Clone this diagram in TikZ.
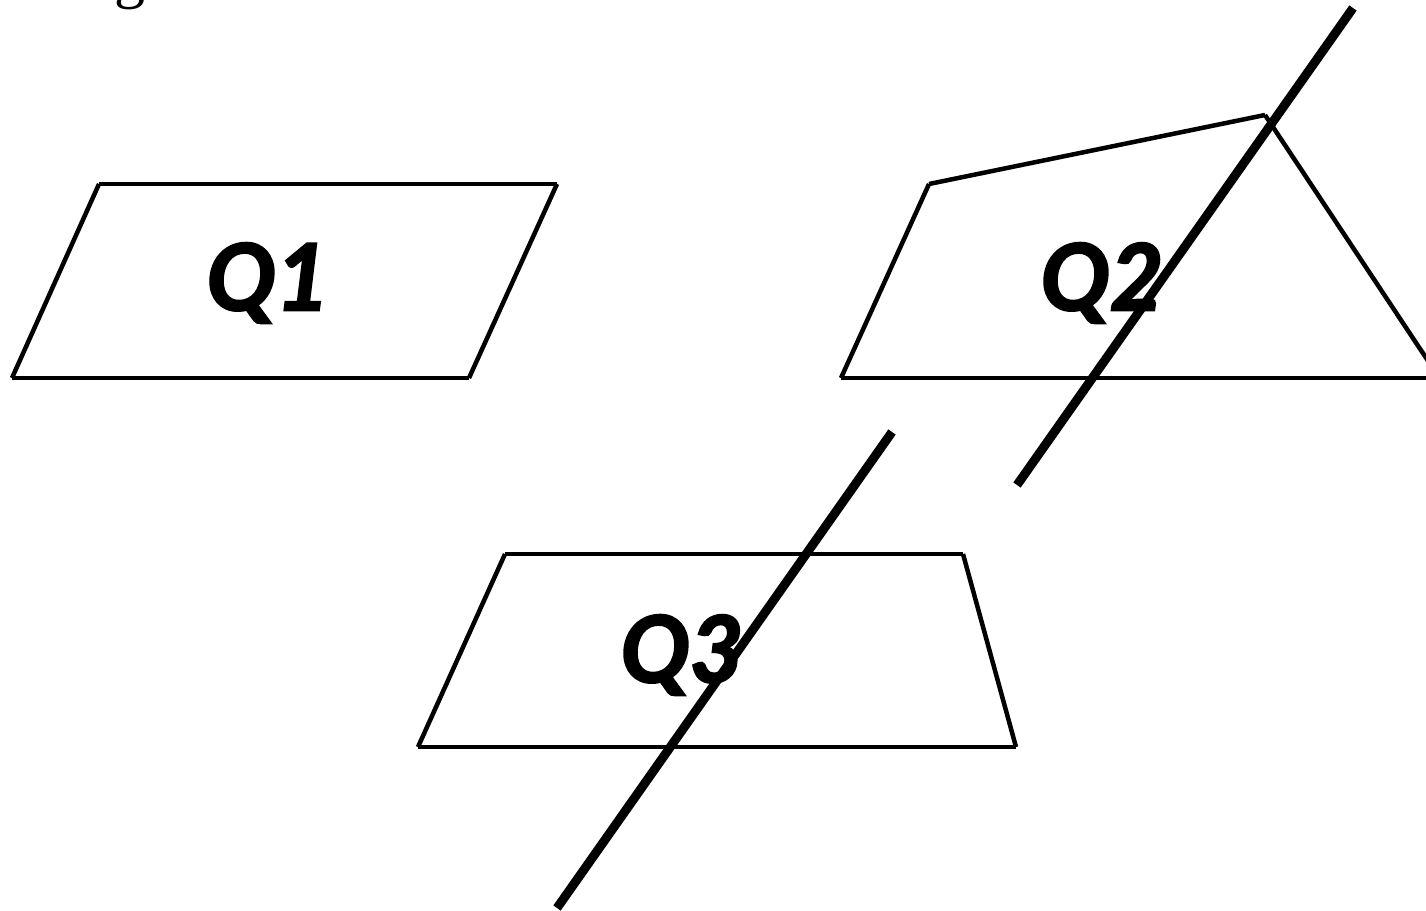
\documentclass[tikz,border=0pt]{standalone}
\usepackage{fontspec}
\newfontfamily\labfont[BoldItalicFeatures={FakeBold=2.5}]{Lato}
\newfontfamily\serfont{Liberation Serif}
\begin{document}
\begin{tikzpicture}[x=1pt,y=-1pt,
  edge/.style={line width=4.5pt,line cap=butt},
  axis/.style={line width=9pt,line cap=butt},
  lab/.style={font=\labfont\bfseries\itshape\fontsize{92}{92}\selectfont,inner sep=0pt}]
\useasboundingbox (0,0) rectangle (1426,910);
\clip (0,0) rectangle (1426,910);
\node[anchor=base west,inner sep=0pt,font=\serfont\fontsize{62}{62}\selectfont] (g) at (114,-4) {g};
% Q1
\coordinate (a1) at (12,378); \coordinate (b1) at (99,184);
\coordinate (c1) at (557,184); \coordinate (d1) at (469,378);
\draw[edge] (a1) -- (b1); \draw[edge] (b1) -- (c1);
\draw[edge] (c1) -- (d1); \draw[edge] (d1) -- (a1);
\node[lab] (q1) at (268,283) {Q1};
% Q2
\coordinate (a2) at (841,378); \coordinate (b2) at (929,184);
\coordinate (c2) at (1265,115); \coordinate (d2) at (1446,388); \coordinate (e2) at (1426,378);
\draw[edge] (a2) -- (b2); \draw[edge] (b2) -- (c2);
\draw[edge] (c2) -- (d2); \draw[edge] (a2) -- (e2);
\node[lab] (q2) at (1102,283) {Q2};
\coordinate (s2) at (1353,8); \coordinate (t2) at (1017,485);
\draw[axis] (s2) -- (t2);
% Q3
\coordinate (a3) at (418,747); \coordinate (b3) at (505,554);
\coordinate (c3) at (963,554); \coordinate (d3) at (1016,747);
\draw[edge] (a3) -- (b3); \draw[edge] (b3) -- (c3);
\draw[edge] (c3) -- (d3); \draw[edge] (d3) -- (a3);
\node[lab] (q3) at (682,655) {Q3};
\coordinate (s3) at (892,432); \coordinate (t3) at (557,908);
\draw[axis] (s3) -- (t3);
\end{tikzpicture}
\end{document}
